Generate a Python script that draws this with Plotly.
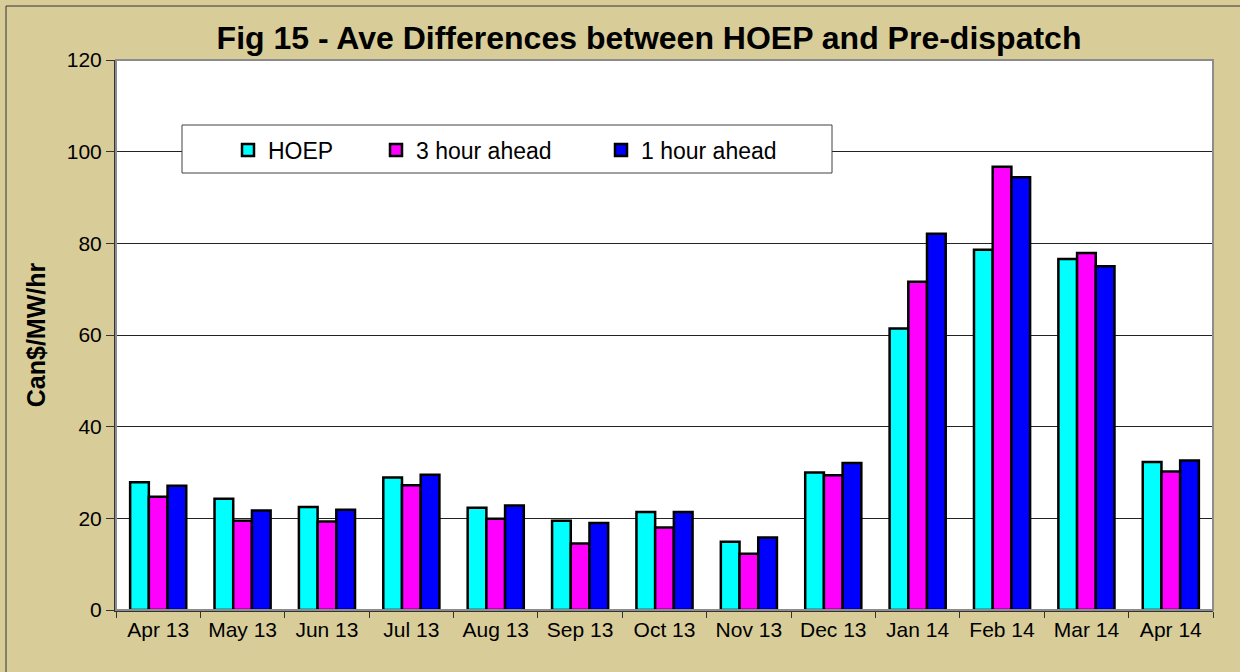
import plotly.graph_objects as go

months = ["Apr 13", "May 13", "Jun 13", "Jul 13", "Aug 13", "Sep 13", "Oct 13",
          "Nov 13", "Dec 13", "Jan 14", "Feb 14", "Mar 14", "Apr 14"]
hoep = [27.9, 24.3, 22.5, 28.9, 22.3, 19.5, 21.4, 14.9, 30.0, 61.4, 78.6, 76.6, 32.3]
three_hour = [24.7, 19.5, 19.3, 27.2, 19.9, 14.5, 18.0, 12.3, 29.4, 71.6, 96.7, 77.9, 30.2]
one_hour = [27.1, 21.7, 21.9, 29.5, 22.8, 19.0, 21.4, 15.8, 32.1, 82.1, 94.4, 75.0, 32.6]

W, H = 1240, 672
# plot area in pixels
L, R, T, B = 116, 1213, 60, 610
tan = "#D8CD99"
font = "Liberation Sans, Arial, sans-serif"


def px_x(x):
    return (x - L) / (R - L)


def px_y(y):
    return (B - y) / (B - T)


fig = go.Figure()
series = [("HOEP", hoep, "#00FFFF", "legend"),
          ("3 hour ahead", three_hour, "#FF00FF", "legend2"),
          ("1 hour ahead", one_hour, "#0000FF", "legend3")]
for name, vals, col, leg in series:
    fig.add_trace(go.Bar(x=months, y=vals, name=name, legend=leg, showlegend=True,
                         marker=dict(color=col, line=dict(color="black", width=2.5))))

# legend box
fig.add_shape(type="rect", xref="paper", yref="paper",
              x0=px_x(182), x1=px_x(832), y0=px_y(173), y1=px_y(125),
              fillcolor="white", line=dict(color="#404040", width=1), layer="above")
# plot area frame
fig.add_shape(type="rect", xref="paper", yref="paper", x0=0, x1=1, y0=0, y1=1,
              line=dict(color="#8c8c8c", width=2), layer="above")
# outer border (right/bottom edges fall outside the page)
fig.add_shape(type="rect", xref="paper", yref="paper",
              x0=px_x(6), x1=px_x(1246), y0=px_y(680), y1=px_y(6),
              line=dict(color="#333333", width=1), layer="below")

leg_common = dict(xref="paper", yref="paper", orientation="h",
                  bgcolor="rgba(0,0,0,0)", borderwidth=0,
                  font=dict(family=font, size=23, color="black"),
                  yanchor="middle", y=px_y(150), xanchor="left")
text_starts = [268, 416, 641]
fig.update_layout(
    showlegend=True,
    legend=dict(x=px_x(text_starts[0] - 40), **leg_common),
    legend2=dict(x=px_x(text_starts[1] - 40), **leg_common),
    legend3=dict(x=px_x(text_starts[2] - 40), **leg_common),
)

fig.update_layout(
    width=W, height=H,
    margin=dict(l=L, r=W - R, t=T, b=H - B, autoexpand=False),
    paper_bgcolor=tan, plot_bgcolor="white",
    barmode="group", bargap=0.335, bargroupgap=0,
    title=dict(text="<b>Fig 15 - Ave Differences between HOEP and Pre-dispatch</b>",
               x=649 / W, xanchor="center", y=1 - 38 / H, yanchor="middle",
               font=dict(family=font, size=32, color="black")),
    font=dict(family=font, color="black"),
    xaxis=dict(tickfont=dict(size=21), ticks="outside", tickson="boundaries",
               ticklen=6, tickcolor="#333333", showline=True, linecolor="#333333",
               linewidth=2, showgrid=False),
    yaxis=dict(range=[0, 120], dtick=20, tickfont=dict(size=21),
               ticks="outside", ticklen=8, tickcolor="#333333",
               showline=True, linecolor="#333333", linewidth=2,
               showgrid=True, gridcolor="#222222", gridwidth=1,
               zeroline=False,
               title=dict(text="<b>Can$/MW/hr</b>", font=dict(size=25), standoff=14)),
)

fig.write_html("out.html", config={"displayModeBar": False},
               post_script="document.body.style.margin='0';")
